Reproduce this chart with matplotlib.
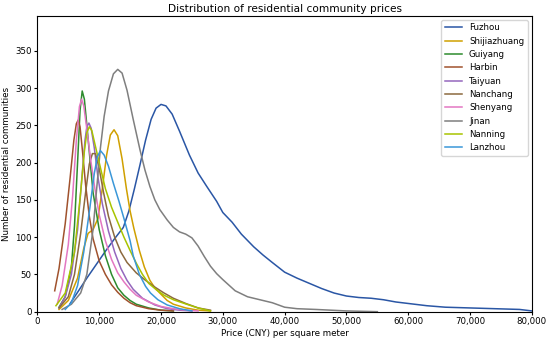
import matplotlib
matplotlib.use("Agg")
import matplotlib.pyplot as plt
from matplotlib.ticker import FuncFormatter

# price (CNY per m2) and number of communities
fuzhou_x = [5300, 6500, 8000, 9500, 11000, 12500, 13900, 14800, 15700, 16600, 17500, 18400, 19200,
            20000, 20800, 21800, 23000, 24600, 26000, 27400, 29000, 30000, 31500, 33000, 35000,
            36500, 38000, 40000, 42000, 44000, 46000, 48000, 50000, 52000, 54000, 56000, 58000,
            60000, 63000, 66000, 70000, 74000, 78000, 80000]
fuzhou_y = [11, 26, 45, 63, 81, 98, 113, 135, 165, 197, 230, 258, 273,
            278, 276, 265, 242, 210, 186, 168, 148, 133, 120, 104, 87,
            76, 66, 53, 45, 38, 31, 25, 21, 19, 18, 16, 13,
            11, 8, 6, 5, 4, 3, 1]

shijiazhuang_x = [3500, 5000, 6500, 7500, 8200, 9000, 9800, 10500, 11200, 11800, 12400, 13000, 13700,
                  14400, 15000, 15600, 16500, 17300, 18200, 19000, 19800, 21000, 22000, 24000, 26000, 28000]
shijiazhuang_y = [3, 15, 45, 85, 105, 110, 125, 165, 210, 237, 244, 236, 205,
                  165, 135, 112, 82, 60, 42, 32, 25, 15, 10, 5, 2, 1]

guiyang_x = [3500, 4500, 5500, 6000, 6500, 6900, 7250, 7600, 8000, 8500, 9000, 10000, 11000, 12000,
             13000, 14000, 15000, 16000, 18000, 20000, 22000]
guiyang_y = [6, 20, 60, 115, 200, 270, 296, 285, 250, 205, 160, 110, 75, 50,
             32, 22, 15, 10, 5, 2, 1]

harbin_x = [2800, 3500, 4500, 5300, 5900, 6300, 6600, 6900, 7300, 7800, 8400, 9000, 10000, 11000,
            12000, 13000, 14000, 15000, 16000, 18000, 20000, 22000]
harbin_y = [28, 58, 118, 180, 230, 252, 257, 248, 215, 170, 128, 98, 68, 50,
            36, 26, 18, 12, 8, 4, 2, 1]

taiyuan_x = [3500, 4500, 5500, 6500, 7200, 7700, 8000, 8330, 8700, 9200, 9800, 10500, 11500, 12500,
             13500, 14500, 15500, 17000, 19000, 21000, 23000, 25000]
taiyuan_y = [5, 20, 50, 110, 180, 230, 248, 253, 246, 220, 180, 145, 108, 80,
             58, 42, 30, 18, 9, 4, 2, 1]

nanchang_x = [3500, 5000, 6000, 7000, 7800, 8400, 8900, 9400, 10000, 10700, 11500, 12500, 13500,
              14500, 16000, 17500, 19000, 20500, 22000, 24000, 26000, 28000]
nanchang_y = [5, 20, 50, 105, 160, 198, 212, 212, 192, 160, 128, 100, 80,
              66, 52, 42, 33, 25, 18, 11, 5, 2]

shenyang_x = [3200, 4000, 5000, 5700, 6300, 6800, 7150, 7500, 8000, 8600, 9300, 10000, 11000, 12000,
              13000, 14000, 15000, 16000, 18000, 20000, 22000, 24000, 26000]
shenyang_y = [10, 35, 90, 155, 230, 275, 285, 276, 245, 205, 165, 130, 95, 70,
              52, 40, 30, 22, 13, 7, 4, 2, 1]

jinan_x = [4000, 5500, 7000, 8000, 9000, 9700, 10200, 10800, 11500, 12300, 13000, 13700, 14500,
           15500, 16600, 17400, 18200, 19000, 19800, 21000, 22000, 23000, 24000, 25000, 26000,
           27000, 28000, 29000, 30000, 32000, 34000, 36000, 38000, 40000, 42000, 45000, 50000, 55000]
jinan_y = [3, 10, 25, 50, 110, 175, 220, 262, 296, 319, 325, 320, 297,
           258, 217, 190, 168, 150, 137, 123, 113, 107, 104, 99, 88,
           74, 61, 51, 43, 28, 20, 16, 12, 6, 4, 3, 1, 0]

nanning_x = [3000, 4500, 6000, 7000, 7600, 8000, 8400, 8800, 9300, 10000, 11000, 12000, 13000,
             14000, 15000, 16000, 17000, 18000, 19300, 20500, 22000, 24500, 26000, 28000]
nanning_y = [8, 25, 80, 160, 215, 240, 248, 243, 225, 200, 165, 140, 120,
             100, 82, 65, 50, 38, 29, 22, 16, 9, 5, 1]

lanzhou_x = [4500, 5500, 6500, 7500, 8500, 9200, 9700, 10200, 10800, 11500, 12300, 13200, 14000,
             15000, 15500, 16500, 17500, 18300, 19500, 21000, 23000, 25000]
lanzhou_y = [3, 12, 35, 80, 140, 185, 208, 216, 210, 195, 172, 148, 125,
             95, 75, 50, 34, 25, 16, 9, 4, 1]

cities = ["Fuzhou", "Shijiazhuang", "Guiyang", "Harbin", "Taiyuan",
          "Nanchang", "Shenyang", "Jinan", "Nanning", "Lanzhou"]
xs = [fuzhou_x, shijiazhuang_x, guiyang_x, harbin_x, taiyuan_x,
      nanchang_x, shenyang_x, jinan_x, nanning_x, lanzhou_x]
ys = [fuzhou_y, shijiazhuang_y, guiyang_y, harbin_y, taiyuan_y,
      nanchang_y, shenyang_y, jinan_y, nanning_y, lanzhou_y]
colors = ["#2a56a5", "#d0a000", "#2e8b2e", "#a0522d", "#9467bd",
          "#8c6a3f", "#e377c2", "#7f7f7f", "#a8c400", "#3a97d8"]

fig = plt.figure(figsize=(5.5, 3.41), dpi=100)
ax = fig.add_axes([0.068, 0.086, 0.899, 0.868])

for name, x, y, c in zip(cities, xs, ys, colors):
    ax.plot(x, y, color=c, lw=1.1, label=name)

ax.set_xlim(0, 80000)
ax.set_ylim(0, 397)
ax.set_yticks([0, 50, 100, 150, 200, 250, 300, 350])
ax.xaxis.set_major_formatter(FuncFormatter(lambda v, p: f"{int(v):,}"))
ax.tick_params(labelsize=6.2, length=2.5, pad=1.5)

ax.set_title("Distribution of residential community prices", fontsize=7.6, pad=3)
ax.set_xlabel("Price (CNY) per square meter", fontsize=6.3, labelpad=2)
ax.set_ylabel("Number of residential communities", fontsize=6.3, labelpad=3)
ax.legend(fontsize=6.2, loc="upper right", borderaxespad=0.5)

fig.savefig("out.png", dpi=100)
